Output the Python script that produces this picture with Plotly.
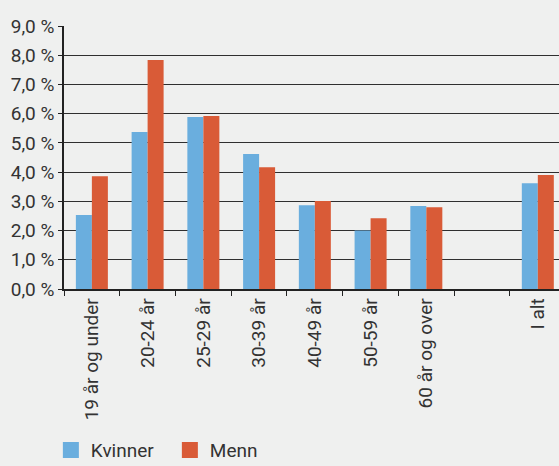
import plotly.graph_objects as go

# Age groups (an empty slot separates the age groups from the total)
categories = ["19 år og under", "20-24 år", "25-29 år", "30-39 år", "40-49 år",
              "50-59 år", "60 år og over", " ", "I alt"]
kvinner = [2.53, 5.37, 5.89, 4.62, 2.87, 2.00, 2.84, None, 3.62]
menn = [3.86, 7.84, 5.92, 4.17, 3.01, 2.42, 2.80, None, 3.90]
y_ticks = [0, 1, 2, 3, 4, 5, 6, 7, 8, 9]
y_tick_labels = [f"{v:.1f} %".replace(".", ",") for v in y_ticks]

BLUE = "#6aaede"
RED = "#d95b37"
BG = "#eff0ef"
TXT = "#333333"
FONT = "Roboto"

fig = go.Figure()
fig.add_trace(go.Bar(x=categories, y=kvinner, name="Kvinner", marker_color=BLUE,
                     marker_line_width=0, showlegend=False))
fig.add_trace(go.Bar(x=categories, y=menn, name="Menn", marker_color=RED,
                     marker_line_width=0, showlegend=False))

# Legend entries with larger square swatches
for name, col in [("Kvinner", BLUE), ("Menn", RED)]:
    fig.add_trace(go.Scatter(x=[None], y=[None], mode="markers", name=name,
                             marker=dict(symbol="square", size=16, color=col)))

fig.update_layout(
    width=559, height=466,
    paper_bgcolor=BG, plot_bgcolor=BG,
    margin=dict(l=64, r=0, t=26, b=177, autoexpand=False),
    barmode="group", bargap=0.426, bargroupgap=0,
    font=dict(family=FONT, size=18, color=TXT),
    showlegend=True,
    legend=dict(orientation="h", xref="container", yref="container",
                x=0.091, y=0.075, xanchor="left", yanchor="top",
                font=dict(family=FONT, size=19, color=TXT),
                itemwidth=30, entrywidth=74, entrywidthmode="pixels",
                bgcolor="rgba(0,0,0,0)"),
)
fig.update_xaxes(
    type="category", range=[-0.5, 8.38],
    showline=True, linecolor="#222222", linewidth=1.5,
    ticks="outside", tickson="boundaries", ticklen=5, tickcolor="#222222",
    tickangle=-90, tickfont=dict(family=FONT, size=19, color=TXT),
    showgrid=False, zeroline=False,
)
fig.update_yaxes(
    range=[0, 9], tickvals=y_ticks, ticktext=y_tick_labels,
    showline=True, linecolor="#222222", linewidth=1.5,
    ticks="outside", ticklen=4, tickcolor="#222222",
    tickfont=dict(family=FONT, size=19, color=TXT),
    showgrid=True, gridcolor="#2f2f2f", gridwidth=1,
    zeroline=False,
)

fig.write_html("out.html")
